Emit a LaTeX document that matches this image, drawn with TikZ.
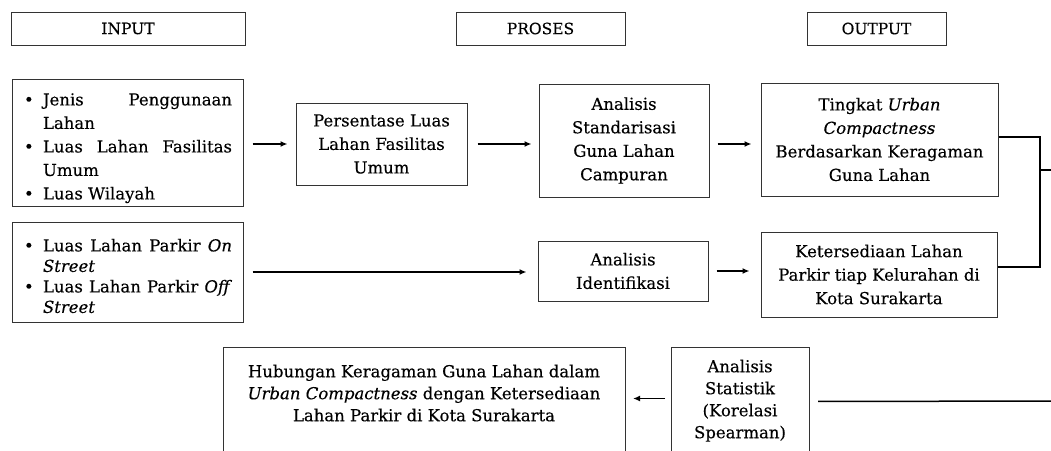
\documentclass[tikz,border=0pt]{standalone}
\usepackage{fontspec}
\setmainfont{DejaVu Serif}[UprightFeatures={FakeBold=0.3},ItalicFeatures={FakeBold=0.3}]
\usetikzlibrary{arrows.meta}
\newcommand{\bitem}[1]{\par\noindent\hangindent=20pt\hangafter=1\makebox[20pt][l]{\hspace{1pt}\textbullet}#1\par}
\begin{document}
\begin{tikzpicture}[x=1pt,y=-1pt,
  box/.style={draw=black!80, line width=1pt, inner sep=0pt, align=center,
              font=\fontsize{16.5}{23.5}\selectfont},
  head/.style={box, font=\fontsize{15.5}{18}\selectfont, minimum height=33pt},
  txt/.style={inner sep=0pt, align=center, font=\fontsize{16.5}{22}\selectfont},
  arr/.style={-{Latex[length=7pt,width=6pt]}, line width=1.4pt},
  link/.style={line width=1.5pt}]
\useasboundingbox (0,0) rectangle (1051,450);
\clip (0,0) rectangle (1051,450);

% headings
\node[head, minimum width=234pt] (hin) at (128,28.5) {INPUT};
\node[head, minimum width=169pt] (hpro) at (540.5,28.5) {PROSES};
\node[head, minimum width=139pt] (hout) at (876.5,28.5) {OUTPUT};

% row 1
\node[box, minimum width=231pt, minimum height=127pt, text width=209pt, align=justify] (in1) at (127.5,142.5)
  {\bitem{Jenis Penggunaan\linebreak Lahan}\bitem{Luas Lahan Fasilitas\linebreak Umum}\bitem{Luas Wilayah}};
\node[box, minimum width=171pt, minimum height=82pt] (pers) at (381.5,144)
  {Persentase Luas\\Lahan Fasilitas\\Umum};
\node[box, minimum width=170pt, minimum height=113pt] (std) at (624,140.5)
  {Analisis\\Standarisasi\\Guna Lahan\\Campuran};
\node[box, minimum width=237pt, minimum height=113pt] (ting) at (879.5,139.5)
  {Tingkat \textit{Urban}\\\textit{Compactness}\\Berdasarkan Keragaman\\Guna Lahan};

% row 2
\node[box, minimum width=231pt, minimum height=100pt, text width=209pt, align=justify,
      font=\fontsize{16.5}{20.5}\selectfont] (in2) at (127.5,272)
  {\bitem{Luas Lahan Parkir \textit{On}\linebreak \textit{Street}}\bitem{Luas Lahan Parkir \textit{Off}\linebreak \textit{Street}}};
\node[box, minimum width=170pt, minimum height=60pt] (ident) at (623,271)
  {Analisis\\Identifikasi};
\node[box, minimum width=236pt, minimum height=85pt] (ket) at (879,274.5)
  {Ketersediaan Lahan\\Parkir tiap Kelurahan di\\Kota Surakarta};

% row 3 (boxes run past the lower edge)
\node[box, minimum width=402pt, minimum height=130pt, anchor=north west] (hub) at (223,347) {};
\node[txt, anchor=north] (hubtext) at (424,364.5)
  {Hubungan Keragaman Guna Lahan dalam\\\textit{Urban Compactness} dengan Ketersediaan\\Lahan Parkir di Kota Surakarta};
\node[box, minimum width=138pt, minimum height=130pt, anchor=north west] (stat) at (671,347) {};
\node[txt, anchor=north] (stattext) at (740,359.5)
  {Analisis\\Statistik\\(Korelasi\\Spearman)};

% connectors
\draw[arr, shorten <=9pt, shorten >=8pt] (in1.east |- pers.west) -- (pers.west);
\draw[arr, shorten <=10pt, shorten >=7pt] (pers.east) -- (pers.east -| std.west);
\draw[arr, shorten <=8pt, shorten >=9pt] (pers.east -| std.east) -- (pers.east -| ting.west);
\draw[arr, shorten <=9pt, shorten >=11pt] (in2.east) -- (in2.east -| ident.west);
\draw[arr, shorten <=8pt, shorten >=11pt] (ident.east) -- (ident.east -| ket.west);

\coordinate (jx) at (1040,170);
\coordinate (rout) at (1060,170);
\draw[link] ([yshift=2.5pt]ting.east) -| (jx) |- ([yshift=7.5pt]ket.east);
\draw[link] (jx) -- (rout);

\draw[arr, shorten <=6pt, shorten >=7pt] ([yshift=14pt]stat.west) -- ([yshift=14pt]hub.east);
\coordinate (bout) at (1060,401);
\draw[link, shorten <=8pt] ([yshift=11pt]stat.east) -- (bout);
\end{tikzpicture}
\end{document}
